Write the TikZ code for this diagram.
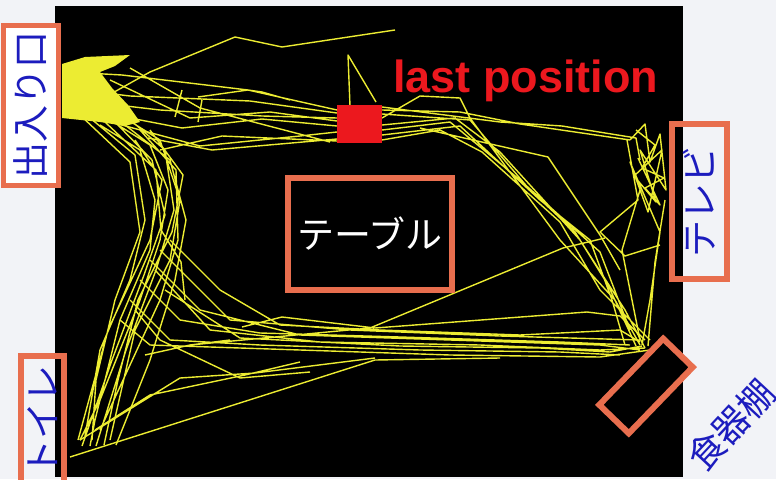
\documentclass[tikz,border=0pt]{standalone}
\usepackage{fontspec}
\newfontfamily\jpfont{Noto Sans CJK JP}
\newfontfamily\enfont{Liberation Sans}
\definecolor{roombg}{RGB}{242,243,247}
\definecolor{boxorange}{RGB}{232,110,78}
\definecolor{labelblue}{RGB}{28,28,190}
\definecolor{trackyellow}{RGB}{236,236,50}
\definecolor{lastred}{RGB}{236,24,30}

\begin{document}
\begin{tikzpicture}[x=1pt,y=-1pt,every node/.style={text=labelblue},
  track/.style={trackyellow,line width=1.4pt,line join=round},
  place/.style={draw=boxorange,line width=6pt,inner sep=0pt,font=\jpfont\fontsize{37}{37}\selectfont}]
\useasboundingbox (0,0) rectangle (776,479);
\fill[roombg] (0,0) rectangle (776,479);
\fill[black] (55,6) rectangle (683,477);
% trajectories
\fill[trackyellow] (62,64) -- (85,57) -- (130,55) -- (115,66) -- (100,72) -- (112,88) -- (128,105) -- (140,122) -- (125,126) -- (100,122) -- (62,118) -- cycle;
\draw[track] (100,100) -- (150,72) -- (235,37) -- (282,47) -- (395,30);
\draw[track] (350,106) -- (348,55) -- (376,102);
\draw[track] (68,72) -- (122,75) -- (248,90) -- (337,110)
  (64,88) -- (130,96) -- (250,101) -- (337,113)
  (75,100) -- (160,110) -- (262,116) -- (337,118)
  (88,110) -- (182,128) -- (262,119) -- (337,126)
  (118,124) -- (200,146) -- (300,136) -- (337,132)
  (148,138) -- (212,150) -- (337,139)
  (160,150) -- (222,136) -- (337,141)
  (130,68) -- (200,108) -- (330,142)
  (110,80) -- (190,118) -- (270,112) -- (337,121)
  (182,90) -- (175,117) (202,100) -- (198,122)
  (198,97) -- (248,90) -- (262,92) -- (290,100);
\draw[track] (382,110) -- (460,112) -- (520,124) -- (630,140)
  (382,118) -- (420,96) -- (460,98) -- (470,118) -- (560,240) -- (615,300) -- (640,345)
  (382,125) -- (455,118) -- (500,152) -- (580,240) -- (625,310) -- (645,348)
  (382,130) -- (450,122) -- (520,180) -- (600,252) -- (630,330)
  (382,135) -- (460,126) -- (540,200) -- (590,240) -- (612,300) -- (625,345)
  (382,140) -- (440,130) -- (482,152) -- (560,222) -- (600,290) -- (650,340)
  (382,114) -- (470,120) -- (530,190) -- (575,232) -- (608,285) -- (636,346)
  (382,107) -- (500,122) -- (562,126) -- (636,138) -- (640,160)
  (420,128) -- (548,157) -- (600,235) -- (620,270);
\draw[track] (630,140) -- (645,124) -- (650,162) -- (660,134) -- (666,190) -- (640,150) -- (656,202) -- (634,176) -- (662,150) -- (648,212) -- (630,162) -- (660,232) -- (650,300) -- (642,345)
  (636,130) -- (655,145) -- (642,168) -- (664,178) -- (645,188) -- (660,205) -- (638,158)
  (640,190) -- (622,250) -- (640,340)
  (627,140) -- (638,200) -- (600,232) -- (625,256) -- (660,245)
  (665,200) -- (655,262) -- (648,346);
\draw[track] (110,120) -- (150,145) -- (168,190) -- (160,240) -- (140,300) -- (100,400) -- (80,440)
  (100,125) -- (140,150) -- (155,200) -- (150,250) -- (120,320) -- (95,420) -- (90,446)
  (120,115) -- (160,140) -- (180,200) -- (170,260) -- (135,330) -- (110,440)
  (90,118) -- (135,155) -- (145,220) -- (130,280) -- (100,350) -- (85,436)
  (125,125) -- (170,160) -- (186,220) -- (175,280) -- (150,360) -- (116,445)
  (80,115) -- (130,162) -- (140,232) -- (115,300) -- (96,380) -- (92,440)
  (140,130) -- (176,170) -- (178,240) -- (160,300) -- (100,430)
  (105,122) -- (156,170) -- (161,230) -- (181,262) -- (185,300)
  (135,140) -- (162,180) -- (150,240) -- (108,330) -- (78,440)
  (150,130) -- (183,175) -- (172,232) -- (138,300) -- (118,380) -- (104,445)
  (128,118) -- (165,150) -- (174,210) -- (156,270) -- (126,350) -- (96,446)
  (115,122) -- (152,160) -- (165,215) -- (144,275) -- (112,360) -- (82,446);
\draw[track] (150,260) -- (200,310) -- (300,335) -- (450,340) -- (600,345) -- (640,350)
  (140,280) -- (180,320) -- (260,333) -- (400,337) -- (560,342) -- (630,345)
  (160,250) -- (230,320) -- (350,330) -- (500,336) -- (640,340)
  (130,300) -- (170,340) -- (260,345) -- (420,350) -- (560,352) -- (620,355)
  (155,270) -- (210,330) -- (320,342) -- (480,345) -- (600,350) -- (645,348)
  (170,240) -- (220,290) -- (280,325) -- (380,330) -- (520,335) -- (620,330) -- (640,342)
  (120,320) -- (150,345) -- (300,350) -- (450,355) -- (600,357) -- (650,350)
  (165,290) -- (240,338) -- (400,346) -- (540,348) -- (610,352) -- (642,346)
  (145,355) -- (190,345) -- (230,340)
  (242,327) -- (282,317) -- (375,328) -- (587,312) -- (620,316) -- (645,340)
  (190,345) -- (370,328) -- (563,248) -- (605,238)
  (135,310) -- (160,340) -- (240,378) -- (310,372);
\draw[track] (70,457) -- (375,360) -- (500,358)
  (80,440) -- (180,378) -- (255,373) -- (375,358)
  (95,430) -- (150,395) -- (245,375) -- (300,362);
% last position
\node[fill=lastred,minimum width=45pt,minimum height=38pt,inner sep=0pt] (lastpos) at (359.5,124) {};
\node[anchor=base west,text=lastred,inner sep=0pt,font=\enfont\bfseries\fontsize{45}{45}\selectfont] (lasttext) at (393,92) {last position};
% places in the room
\node[place,fill=white,rotate=90,line width=5pt,minimum width=160pt,minimum height=55pt] (door) at (30.5,105) {出入り口};
\node[place,fill=black,text=white,minimum width=164pt,minimum height=112pt] (table) at (370,234) {テーブル};
\node[place,rotate=90,minimum width=155pt,minimum height=55pt] (tv) at (699.5,201.5) {テレビ};
\node[place,rotate=90,minimum width=129pt,minimum height=43pt] (toilet) at (42.5,420.5) {トイレ};
\node[place,fill=black,rotate=46,minimum width=92pt,minimum height=41pt] (cupboard) at (646,386) {};
\node[rotate=47,inner sep=0pt,font=\jpfont\fontsize{36}{36}\selectfont] (cuplabel) at (731,425) {食器棚};
\end{tikzpicture}
\end{document}
